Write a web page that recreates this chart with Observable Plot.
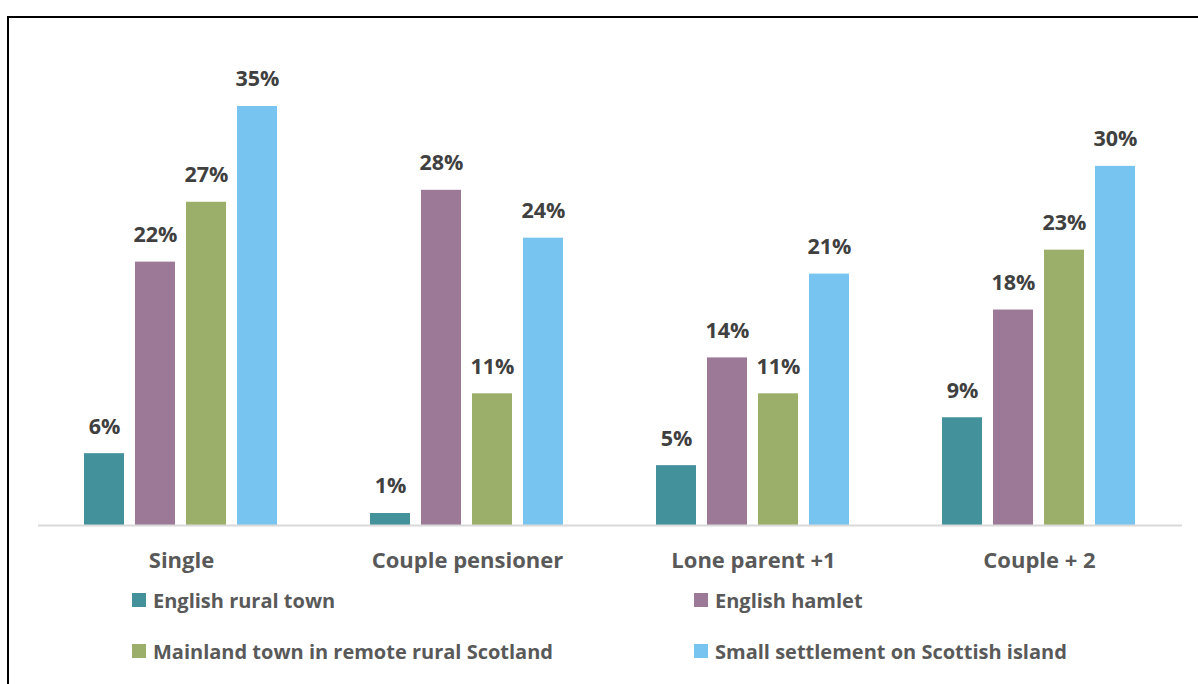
<!DOCTYPE html>
<html>
<head>
<meta charset="utf-8">
<script src="https://cdn.jsdelivr.net/npm/d3@7"></script>
<script src="https://cdn.jsdelivr.net/npm/@observablehq/plot@0.6"></script>
<style>
  html, body { margin: 0; padding: 0; background: #fff; }
  #wrap { position: relative; width: 1198px; height: 684px; overflow: hidden; font-family: "Open Sans", sans-serif; }
  #frame { position: absolute; left: 7px; top: 16px; width: 1300px; height: 900px; border: 2px solid #000; box-sizing: border-box; }
  #chart { position: absolute; left: 0; top: 0; }
  .leg { position: absolute; display: flex; align-items: center; font-weight: bold; font-size: 20px; color: #595959; white-space: nowrap; }
  .leg .sw { width: 14px; height: 14px; margin-right: 7px; }
</style>
</head>
<body>
<div id="wrap">
  <div id="frame"></div>
  <div id="chart"></div>
  <div id="legend"></div>
</div>
<script>
const categories = ["Single", "Couple pensioner", "Lone parent +1", "Couple + 2"];
const series = ["English rural town", "English hamlet", "Mainland town in remote rural Scotland", "Small settlement on Scottish island"];
const englishRuralTown = [6, 1, 5, 9];
const englishHamlet = [22, 28, 14, 18];
const mainlandTownScotland = [27, 11, 11, 23];
const scottishIsland = [35, 24, 21, 30];
const colors = ["#43919B", "#9C7A97", "#9BAE6A", "#78C4F0"];

const seriesValues = [englishRuralTown, englishHamlet, mainlandTownScotland, scottishIsland];
const data = [];
categories.forEach((c, i) => {
  series.forEach((s, j) => data.push({category: c, series: s, value: seriesValues[j][i]}));
});

const plot = Plot.plot({
  width: 1198,
  height: 580,
  marginLeft: 37,
  marginRight: 15,
  marginTop: 106,
  marginBottom: 55,
  style: {fontFamily: "'Open Sans', sans-serif", background: "transparent"},
  fx: {domain: categories, padding: 0, label: null},
  x: {domain: series, paddingInner: 0.21, paddingOuter: 0.86, axis: null},
  y: {domain: [0, 35], axis: null},
  color: {domain: series, range: colors},
  marks: [
    Plot.barY(data, {fx: "category", x: "series", y: "value", fill: "series"}),
    Plot.ruleY([0], {stroke: "#D9D9D9", strokeWidth: 2}),
    Plot.text(data, {fx: "category", x: "series", y: "value", text: d => d.value + "%", dy: -27, fontSize: 21.5, fontWeight: "bold", fill: "#404040"}),
    Plot.axisFx({anchor: "bottom", tickSize: 0, tickPadding: 27, fontSize: 22, fontWeight: "bold", fill: "#595959", color: "#595959", label: null})
  ]
});
document.getElementById("chart").appendChild(plot);

// legend
const legendPos = [
  {left: 132, top: 600}, {left: 694, top: 600},
  {left: 132, top: 651}, {left: 694, top: 651}
];
const legend = document.getElementById("legend");
series.forEach((s, i) => {
  const item = document.createElement("div");
  item.className = "leg";
  item.style.left = legendPos[i].left + "px";
  item.style.top = (legendPos[i].top - 12) + "px";
  item.style.height = "24px";
  const sw = document.createElement("span");
  sw.className = "sw";
  sw.style.background = colors[i];
  const label = document.createElement("span");
  label.textContent = s;
  item.appendChild(sw);
  item.appendChild(label);
  legend.appendChild(item);
});
</script>
</body>
</html>
